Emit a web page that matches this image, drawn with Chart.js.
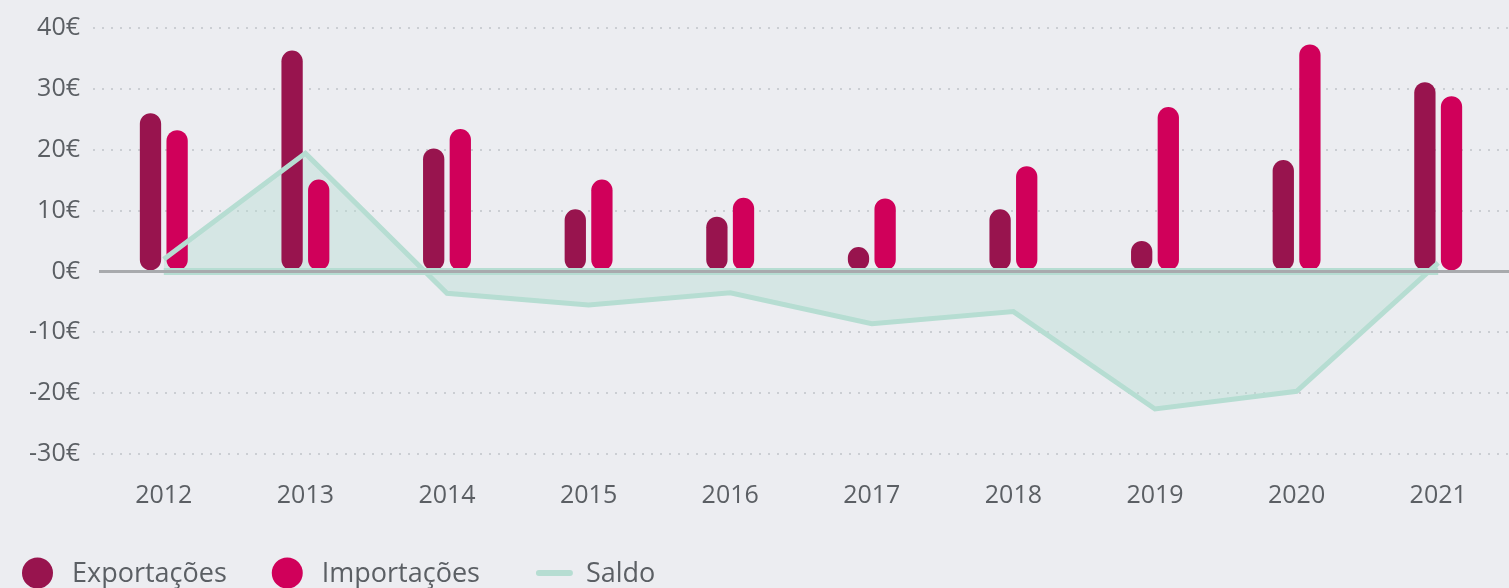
<!DOCTYPE html>
<html>
<head>
<meta charset="utf-8">
<script src="https://cdn.jsdelivr.net/npm/chart.js@4/dist/chart.umd.min.js"></script>
<style>
  html, body { margin: 0; padding: 0; background: #ecedf1; }
  #wrap { width: 1509px; height: 588px; position: relative; }
</style>
</head>
<body>
<div id="wrap"><canvas id="myChart"></canvas></div>
<script>
const anos = ['2012', '2013', '2014', '2015', '2016', '2017', '2018', '2019', '2020', '2021'];
const exportacoes = [26, 36.3, 20.2, 10.2, 9, 4, 10.2, 5, 18.3, 31.1];
const importacoes = [23.2, 15.1, 23.4, 15.1, 12.1, 12, 17.3, 27, 37.3, 28.8];
const saldo = [2, 19.4, -3.6, -5.5, -3.5, -8.6, -6.6, -22.6, -19.7, 1.4];
const base = [0, 0, 0, 0, 0, 0, 0, 0, 0, 0];
const yMin = -30, yMax = 40, yStep = 10;

const corTexto = '#5b5f64';
const fonte = 'Open Sans';

// linha cinzenta do zero, por cima de tudo
const linhaZero = {
  id: 'linhaZero',
  afterDatasetsDraw(chart) {
    const { ctx, chartArea, scales } = chart;
    const y = scales.y.getPixelForValue(0);
    ctx.save();
    ctx.strokeStyle = '#a8aaad';
    ctx.lineWidth = 3;
    ctx.beginPath();
    ctx.moveTo(chartArea.left + 6, y);
    ctx.lineTo(chartArea.right, y);
    ctx.stroke();
    ctx.restore();
  }
};

// legenda em baixo, à esquerda
const legenda = {
  id: 'legenda',
  afterDraw(chart) {
    const ctx = chart.ctx;
    const y = 574;
    let x = 22;
    ctx.save();
    ctx.font = '27px "' + fonte + '"';
    ctx.textBaseline = 'middle';
    [0, 1, 2].forEach(i => {
      const ds = chart.data.datasets[i];
      if (ds.type === 'line') {
        ctx.strokeStyle = ds.borderColor;
        ctx.lineWidth = 6;
        ctx.lineCap = 'round';
        ctx.beginPath();
        ctx.moveTo(x + 14, y - 1);
        ctx.lineTo(x + 45, y - 1);
        ctx.stroke();
        x += 61;
      } else {
        ctx.fillStyle = ds.backgroundColor;
        ctx.beginPath();
        ctx.arc(x + 15.5, y - 1, 15.5, 0, Math.PI * 2);
        ctx.fill();
        x += 50;
      }
      ctx.fillStyle = corTexto;
      ctx.fillText(ds.label, x, y);
      x += ctx.measureText(ds.label).width + 45;
    });
    ctx.restore();
  }
};

const ctx = document.getElementById('myChart');

new Chart(ctx, {
  type: 'bar',
  data: {
    labels: anos,
    datasets: [
      {
        label: 'Exportações',
        data: exportacoes,
        backgroundColor: '#98144e',
        borderRadius: 11,
        borderSkipped: false,
        categoryPercentage: 0.376,
        barPercentage: 0.8,
        order: 2
      },
      {
        label: 'Importações',
        data: importacoes,
        backgroundColor: '#d0005a',
        borderRadius: 11,
        borderSkipped: false,
        categoryPercentage: 0.376,
        barPercentage: 0.8,
        order: 2
      },
      {
        type: 'line',
        label: 'Saldo',
        data: saldo,
        borderColor: '#b6ddd2',
        backgroundColor: 'rgba(182, 221, 210, 0.42)',
        borderWidth: 5,
        pointRadius: 0,
        fill: 'origin',
        tension: 0,
        order: 0
      },
      {
        type: 'line',
        label: 'base',
        data: base,
        borderColor: '#b6ddd2',
        borderWidth: 7,
        pointRadius: 0,
        fill: false,
        order: 1
      }
    ]
  },
  options: {
    responsive: true,
    maintainAspectRatio: false,
    animation: false,
    layout: {
      padding: { top: 19, right: 0, bottom: 58, left: 0 }
    },
    scales: {
      x: {
        grid: { display: false },
        border: { display: false },
        ticks: {
          color: corTexto,
          padding: 19,
          font: { family: fonte, size: 25 }
        }
      },
      y: {
        min: yMin,
        max: yMax,
        afterFit(scale) { scale.width = 93; },
        // pontinhos das grelhas
        border: { display: false, dash: [2, 7] },
        grid: {
          drawTicks: false,
          lineWidth: 2,
          color: c => c.tick.value === 0 ? 'rgba(0,0,0,0)' : '#cbced3'
        },
        ticks: {
          stepSize: yStep,
          padding: 13,
          color: corTexto,
          font: { family: fonte, size: 25 },
          callback: v => v + '€'
        }
      }
    },
    plugins: {
      legend: { display: false },
      tooltip: { enabled: false },
      filler: { drawTime: 'beforeDatasetsDraw' }
    }
  },
  plugins: [linhaZero, legenda]
});
</script>
</body>
</html>
